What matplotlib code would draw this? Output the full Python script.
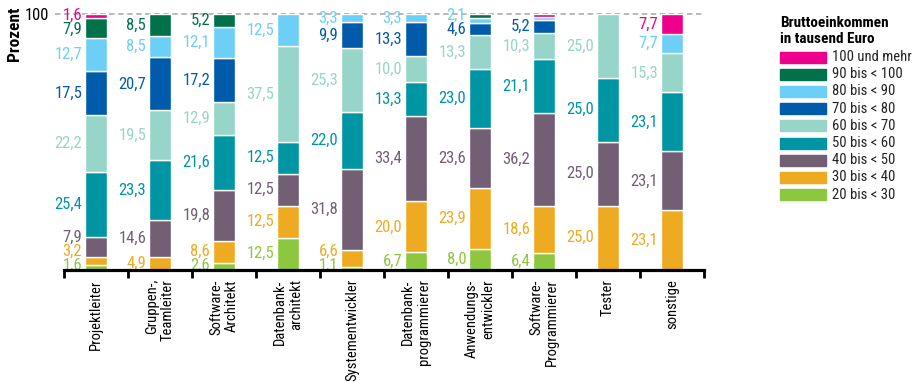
import matplotlib
matplotlib.use('Agg')
import matplotlib.pyplot as plt
from matplotlib import font_manager
from matplotlib.patches import Rectangle

# categories (x axis)
categories = ['Projektleiter', 'Gruppen-,\nTeamleiter', 'Software-\nArchitekt',
              'Datenbank-\narchitekt', 'Systementwickler', 'Datenbank-\nprogrammierer',
              'Anwendungs-\nentwickler', 'Software-\nProgrammierer', 'Tester', 'sonstige']

# income brackets, bottom to top
levels = ['20 bis < 30', '30 bis < 40', '40 bis < 50', '50 bis < 60', '60 bis < 70',
          '70 bis < 80', '80 bis < 90', '90 bis < 100', '100 und mehr']
colors = ['#8dc63f', '#eeab22', '#725f74', '#0095a3', '#98d5c9',
          '#005baa', '#6dcff6', '#00714a', '#ec008c']

# share in percent per category, bottom to top
projektleiter = [1.6, 3.2, 7.9, 25.4, 22.2, 17.5, 12.7, 7.9, 1.6]
teamleiter = [0, 4.9, 14.6, 23.3, 19.5, 20.7, 8.5, 8.5, 0]
sw_architekt = [2.6, 8.6, 19.8, 21.6, 12.9, 17.2, 12.1, 5.2, 0]
db_architekt = [12.5, 12.5, 12.5, 12.5, 37.5, 0, 12.5, 0, 0]
systementwickler = [1.1, 6.6, 31.8, 22.0, 25.3, 9.9, 3.3, 0, 0]
db_programmierer = [6.7, 20.0, 33.4, 13.3, 10.0, 13.3, 3.3, 0, 0]
anwendungsentw = [8.0, 23.9, 23.6, 23.0, 13.3, 4.6, 2.1, 1.5, 0]
sw_programmierer = [6.4, 18.6, 36.2, 21.1, 10.3, 5.2, 1.1, 0, 1.1]
tester = [0, 25.0, 25.0, 25.0, 25.0, 0, 0, 0, 0]
sonstige = [0, 23.1, 23.1, 23.1, 15.3, 0, 7.7, 0, 7.7]

data = [projektleiter, teamleiter, sw_architekt, db_architekt, systementwickler,
        db_programmierer, anwendungsentw, sw_programmierer, tester, sonstige]

# segments drawn without a value label (category, level)
unlabeled = {(6, 7), (7, 6), (7, 8)}

names = {f.name for f in font_manager.fontManager.ttflist}
family = 'DejaVu Sans'
for cand in ['Liberation Sans Narrow', 'Roboto Condensed', 'Open Sans Condensed', 'Liberation Sans']:
    if cand in names:
        family = cand
        break
plt.rcParams['font.family'] = [family, 'DejaVu Sans']

W, H = 922, 382
fig = plt.figure(figsize=(W / 100, H / 100), dpi=100)
ax = fig.add_axes([64 / W, (H - 269.5) / H, 640 / W, 255.5 / H])

bar_w = 0.33
gap = 5.4
for i, vals in enumerate(data):
    x = i + 0.5
    bottom = 0
    label_pos = []
    for j, v in enumerate(vals):
        if v > 0:
            ax.bar(x, v, bottom=bottom, width=bar_w, color=colors[j],
                   edgecolor='white', linewidth=1.0, zorder=2)
            if (i, j) not in unlabeled:
                label_pos.append([bottom + v / 2, j, v])
        bottom += v
    # spread labels so they don't overlap
    for k in range(len(label_pos)):
        lo = 1.6 if k == 0 else label_pos[k - 1][0] + gap
        label_pos[k][0] = max(label_pos[k][0], lo)
    for k in range(len(label_pos) - 1, -1, -1):
        hi = 99.5 if k == len(label_pos) - 1 else label_pos[k + 1][0] - gap
        label_pos[k][0] = min(label_pos[k][0], hi)
    for y, j, v in label_pos:
        ax.text(x - bar_w / 2 - 0.05, y, f'{v:.1f}'.replace('.', ','),
                ha='right', va='center', fontsize=12, color=colors[j], zorder=3)

ax.set_xlim(0, 10)
ax.set_ylim(0, 100)
ax.axhline(100, xmin=-0.014, xmax=1.0, color='#b3b3b3', linestyle=(0, (3, 2)),
           linewidth=1.3, clip_on=False, zorder=1)

for s in ['top', 'right', 'left']:
    ax.spines[s].set_visible(False)
ax.spines['bottom'].set_linewidth(2.3)
ax.spines['bottom'].set_zorder(4)

ax.set_xticks(range(11))
ax.set_xticklabels([])
ax.tick_params(axis='x', which='major', direction='out', length=6, width=2.0)
ax.set_xticks([i + 0.5 for i in range(10)], minor=True)
ax.set_xticklabels(categories, minor=True, rotation=90, fontsize=10.5)
ax.tick_params(axis='x', which='minor', length=0, pad=7)
for lbl in ax.get_xticklabels(minor=True):
    lbl.set_multialignment('right')

ax.set_yticks([100])
ax.set_yticklabels(['100'], fontsize=12)
ax.tick_params(axis='y', length=0, pad=11)

fig.text(15 / W, 1 - 34 / H, 'Prozent', rotation=90, ha='center', va='center',
         fontsize=12.5, fontweight='bold')

# legend
fig.text(780 / W, 1 - 31 / H, 'Bruttoeinkommen\nin tausend Euro', ha='left', va='center',
         fontsize=11, fontweight='bold', linespacing=1.15)
for k, j in enumerate(range(len(levels) - 1, -1, -1)):
    yc = 57 + k * 17.2
    fig.add_artist(Rectangle((780 / W, 1 - (yc + 5.5) / H), 46 / W, 11 / H,
                             transform=fig.transFigure, color=colors[j]))
    fig.text(832 / W, 1 - yc / H, levels[j], ha='left', va='center', fontsize=10.5,
             color='#222222')

fig.savefig('out.png', dpi=100)
